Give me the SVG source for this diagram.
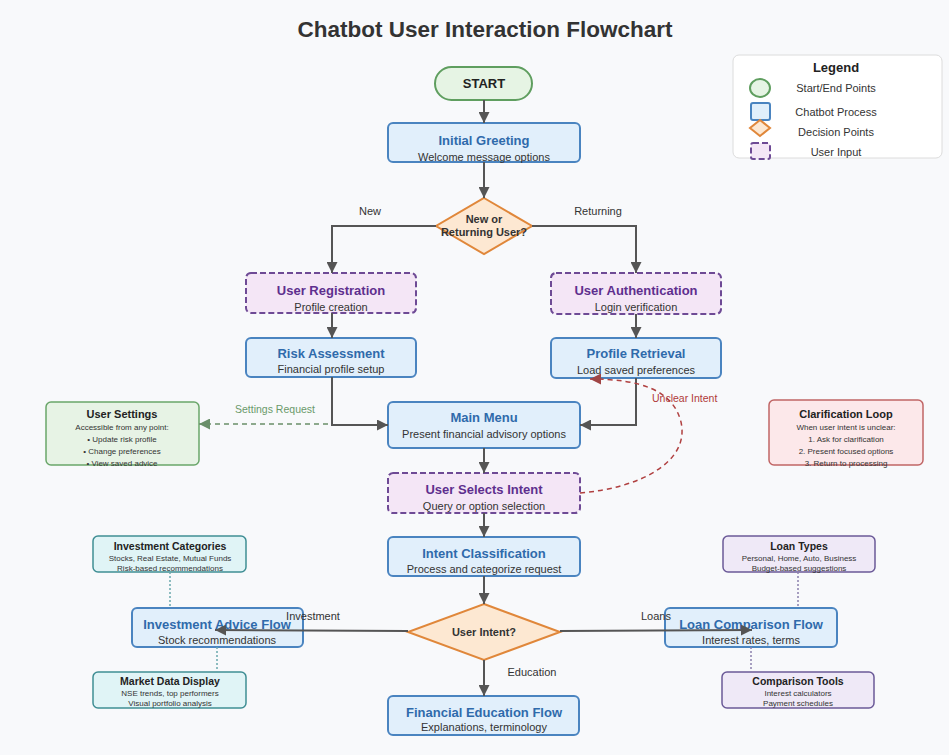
<svg xmlns="http://www.w3.org/2000/svg" width="949" height="755" viewBox="0 0 949 755">
  <defs>
    <marker id="arrow" viewBox="0 0 10 10" refX="10" refY="5" markerWidth="11" markerHeight="11" markerUnits="userSpaceOnUse" orient="auto">
      <path d="M0,0 L10,5 L0,10 z" fill="#555"/>
    </marker>
    <marker id="arrow-green" viewBox="0 0 10 10" refX="10" refY="5" markerWidth="11" markerHeight="11" markerUnits="userSpaceOnUse" orient="auto">
      <path d="M0,0 L10,5 L0,10 z" fill="#6a8f6a"/>
    </marker>
    <marker id="arrow-red" viewBox="0 0 10 10" refX="10" refY="5" markerWidth="11" markerHeight="11" markerUnits="userSpaceOnUse" orient="auto">
      <path d="M0,0 L10,5 L0,10 z" fill="#a04545"/>
    </marker>
  </defs>
  <style>
    text { font-family: "Liberation Sans", Arial, sans-serif; }
    .title { font-size: 22.5px; font-weight: bold; fill: #333; text-anchor: middle; }
    .proc { fill: #e1effb; stroke: #4a84c0; stroke-width: 2; }
    .input { fill: #f4e6f6; stroke: #6e4a95; stroke-width: 2; stroke-dasharray: 6 3; }
    .decision { fill: #fde8d2; stroke: #e0873a; stroke-width: 2; }
    .terminal { fill: #e6f4e4; stroke: #5f9e5f; stroke-width: 2; }
    .settings { fill: #e7f3e5; stroke: #6aa66a; stroke-width: 1.5; }
    .clarify { fill: #fce8ea; stroke: #c06565; stroke-width: 1.5; }
    .teal { fill: #e0f4f6; stroke: #3f8e94; stroke-width: 1.5; }
    .lilac { fill: #efe9f7; stroke: #6b5a98; stroke-width: 1.5; }
    .h-proc { font-size: 13px; font-weight: bold; fill: #2f6aab; text-anchor: middle; }
    .h-input { font-size: 13px; font-weight: bold; fill: #5e2f8e; text-anchor: middle; }
    .sub { font-size: 11px; fill: #333; text-anchor: middle; }
    .dtext { font-size: 11px; font-weight: bold; fill: #333; text-anchor: middle; }
    .h-small { font-size: 10.5px; font-weight: bold; fill: #222; text-anchor: middle; }
    .line-small { font-size: 8px; fill: #333; text-anchor: middle; }
    .edge { fill: none; stroke: #555; stroke-width: 2; }
    .elabel { font-size: 11px; fill: #333; text-anchor: middle; }
    .dot-teal { fill: none; stroke: #6aa8ad; stroke-width: 1.5; stroke-dasharray: 2 2; }
    .dot-lilac { fill: none; stroke: #8b80ad; stroke-width: 1.5; stroke-dasharray: 2 2; }
    .legend-text { font-size: 11px; fill: #333; text-anchor: middle; }
  </style>

  <rect x="0" y="0" width="949" height="755" fill="#f8f9fb"/>

  <text class="title" x="485" y="37">Chatbot User Interaction Flowchart</text>

  <!-- Legend -->
  <g id="legend">
    <rect x="733" y="55" width="209" height="103" rx="6" fill="#ffffff" stroke="#dcdcdc" stroke-width="1"/>
    <text x="836" y="72" font-size="13" font-weight="bold" fill="#222" text-anchor="middle">Legend</text>
    <ellipse cx="760" cy="88" rx="10" ry="9" class="terminal" stroke-width="1.5"/>
    <text class="legend-text" x="836" y="92">Start/End Points</text>
    <rect x="751" y="103" width="19" height="17" rx="2" class="proc" stroke-width="1.5"/>
    <text class="legend-text" x="836" y="116">Chatbot Process</text>
    <polygon points="760,120 770,128 760,136 750,128" class="decision" stroke-width="1.5"/>
    <text class="legend-text" x="836" y="135.5">Decision Points</text>
    <rect x="751" y="143" width="19" height="16" rx="2" class="input" stroke-width="1.5" stroke-dasharray="3 2"/>
    <text class="legend-text" x="836" y="156">User Input</text>
  </g>

  <!-- Nodes -->
  <g id="start">
    <rect x="435" y="67" width="97" height="33" rx="16.5" class="terminal"/>
    <text x="484" y="88" font-size="13" font-weight="bold" fill="#222" text-anchor="middle">START</text>
  </g>

  <g id="initial-greeting">
    <rect x="388" y="123" width="192" height="39" rx="5" class="proc"/>
    <text class="h-proc" x="484" y="144.5">Initial Greeting</text>
    <text class="sub" x="484" y="160.5">Welcome message options</text>
  </g>

  <g id="user-type-decision">
    <polygon points="484,198 532,226 484,254 436,226" class="decision"/>
    <text class="dtext" x="484" y="223">New or</text>
    <text class="dtext" x="484" y="236">Returning User?</text>
  </g>

  <g id="user-registration">
    <rect x="246" y="273" width="170" height="40" rx="5" class="input"/>
    <text class="h-input" x="331" y="294.5">User Registration</text>
    <text class="sub" x="331" y="311">Profile creation</text>
  </g>

  <g id="user-authentication">
    <rect x="551" y="273" width="170" height="41" rx="5" class="input"/>
    <text class="h-input" x="636" y="294.5">User Authentication</text>
    <text class="sub" x="636" y="311">Login verification</text>
  </g>

  <g id="risk-assessment">
    <rect x="246" y="338" width="170" height="39" rx="5" class="proc"/>
    <text class="h-proc" x="331" y="357.5">Risk Assessment</text>
    <text class="sub" x="331" y="373">Financial profile setup</text>
  </g>

  <g id="profile-retrieval">
    <rect x="551" y="338" width="170" height="40" rx="5" class="proc"/>
    <text class="h-proc" x="636" y="357.5">Profile Retrieval</text>
    <text class="sub" x="636" y="373.5">Load saved preferences</text>
  </g>

  <g id="main-menu">
    <rect x="388" y="402" width="192" height="46" rx="5" class="proc"/>
    <text class="h-proc" x="484" y="421.5">Main Menu</text>
    <text class="sub" x="484" y="438">Present financial advisory options</text>
  </g>

  <g id="user-settings">
    <rect x="46" y="402" width="153" height="63" rx="5" class="settings"/>
    <text x="122" y="418" font-size="11" font-weight="bold" fill="#222" text-anchor="middle">User Settings</text>
    <text class="line-small" x="122" y="430">Accessible from any point:</text>
    <text class="line-small" x="122" y="442">• Update risk profile</text>
    <text class="line-small" x="122" y="454">• Change preferences</text>
    <text class="line-small" x="122" y="466">• View saved advice</text>
  </g>

  <g id="clarification-loop">
    <rect x="769" y="400" width="154" height="65" rx="5" class="clarify"/>
    <text x="846" y="418" font-size="11" font-weight="bold" fill="#222" text-anchor="middle">Clarification Loop</text>
    <text class="line-small" x="846" y="430">When user intent is unclear:</text>
    <text class="line-small" x="846" y="442">1. Ask for clarification</text>
    <text class="line-small" x="846" y="454">2. Present focused options</text>
    <text class="line-small" x="846" y="466">3. Return to processing</text>
  </g>

  <g id="user-selects-intent">
    <rect x="388" y="473" width="192" height="40" rx="5" class="input"/>
    <text class="h-input" x="484" y="493.5">User Selects Intent</text>
    <text class="sub" x="484" y="509.5">Query or option selection</text>
  </g>

  <g id="intent-classification">
    <rect x="388" y="537" width="192" height="39" rx="5" class="proc"/>
    <text class="h-proc" x="484" y="557.5">Intent Classification</text>
    <text class="sub" x="484" y="573">Process and categorize request</text>
  </g>

  <g id="intent-decision">
    <polygon points="484,604 560,632 484,660 408,632" class="decision"/>
    <text class="dtext" x="484" y="636">User Intent?</text>
  </g>

  <g id="investment-categories">
    <rect x="93" y="536" width="153" height="36" rx="5" class="teal"/>
    <text class="h-small" x="170" y="549.5">Investment Categories</text>
    <text class="line-small" x="170" y="561">Stocks, Real Estate, Mutual Funds</text>
    <text class="line-small" x="170" y="571">Risk-based recommendations</text>
  </g>

  <g id="investment-advice">
    <rect x="132" y="608" width="171" height="39" rx="5" class="proc"/>
    <text class="h-proc" x="217" y="629">Investment Advice Flow</text>
    <text class="sub" x="217" y="644">Stock recommendations</text>
  </g>

  <g id="market-data">
    <rect x="93" y="672" width="153" height="36" rx="5" class="teal"/>
    <text class="h-small" x="170" y="684.5">Market Data Display</text>
    <text class="line-small" x="170" y="696">NSE trends, top performers</text>
    <text class="line-small" x="170" y="706">Visual portfolio analysis</text>
  </g>

  <g id="loan-types">
    <rect x="723" y="536" width="152" height="36" rx="5" class="lilac"/>
    <text class="h-small" x="799" y="549.5">Loan Types</text>
    <text class="line-small" x="799" y="561">Personal, Home, Auto, Business</text>
    <text class="line-small" x="799" y="571">Budget-based suggestions</text>
  </g>

  <g id="loan-comparison">
    <rect x="665" y="608" width="172" height="39" rx="5" class="proc"/>
    <text class="h-proc" x="751" y="629">Loan Comparison Flow</text>
    <text class="sub" x="751" y="643.5">Interest rates, terms</text>
  </g>

  <g id="comparison-tools">
    <rect x="722" y="672" width="152" height="36" rx="5" class="lilac"/>
    <text class="h-small" x="798" y="684.5">Comparison Tools</text>
    <text class="line-small" x="798" y="696">Interest calculators</text>
    <text class="line-small" x="798" y="706">Payment schedules</text>
  </g>

  <g id="financial-education">
    <rect x="388" y="696" width="191" height="39" rx="5" class="proc"/>
    <text class="h-proc" x="484" y="716.5">Financial Education Flow</text>
    <text class="sub" x="484" y="731">Explanations, terminology</text>
  </g>

  <!-- Connectors (drawn over the nodes, so arrows entering a box stay visible) -->
  <g id="connectors">
    <path class="edge" d="M484,100 L484,123" marker-end="url(#arrow)"/>
    <path class="edge" d="M484,162 L484,198" marker-end="url(#arrow)"/>
    <path class="edge" d="M436,226 L332,226 L332,273" marker-end="url(#arrow)"/>
    <path class="edge" d="M532,226 L636,226 L636,273" marker-end="url(#arrow)"/>
    <path class="edge" d="M332,313 L332,338" marker-end="url(#arrow)"/>
    <path class="edge" d="M636,314 L636,338" marker-end="url(#arrow)"/>
    <path class="edge" d="M332,377 L332,425 L388,425" marker-end="url(#arrow)"/>
    <path class="edge" d="M636,378 L636,425 L580,425" marker-end="url(#arrow)"/>
    <path d="M328,424 L199,424" fill="none" stroke="#6a8f6a" stroke-width="1.5" stroke-dasharray="5 4" marker-end="url(#arrow-green)"/>
    <path class="edge" d="M484,448 L484,473" marker-end="url(#arrow)"/>
    <path class="edge" d="M484,513 L484,537" marker-end="url(#arrow)"/>
    <path class="edge" d="M484,576 L484,604" marker-end="url(#arrow)"/>
    <path class="edge" d="M408,631 L215,630" marker-end="url(#arrow)"/>
    <path class="edge" d="M560,631 L752,630" marker-end="url(#arrow)"/>
    <path class="edge" d="M484,660 L484,696" marker-end="url(#arrow)"/>
    <path d="M580,493 C640,488 690,462 681,422 C673,390 640,379 590,379" fill="none" stroke="#b04040" stroke-width="1.5" stroke-dasharray="5 4" marker-end="url(#arrow-red)"/>
    <path class="dot-teal" d="M170,572 L170,608"/>
    <path class="dot-teal" d="M217,647 L217,672"/>
    <path class="dot-lilac" d="M798,572 L798,608"/>
    <path class="dot-lilac" d="M751,647 L751,672"/>

    <text class="elabel" x="370" y="215">New</text>
    <text class="elabel" x="598" y="215">Returning</text>
    <text x="275" y="413" font-size="10.5" fill="#6a9a6a" text-anchor="middle">Settings Request</text>
    <text x="652" y="402" font-size="10.5" fill="#b03a3a">Unclear Intent</text>
    <text class="elabel" x="313" y="620">Investment</text>
    <text class="elabel" x="656" y="620">Loans</text>
    <text class="elabel" x="532" y="676">Education</text>
  </g>
</svg>
